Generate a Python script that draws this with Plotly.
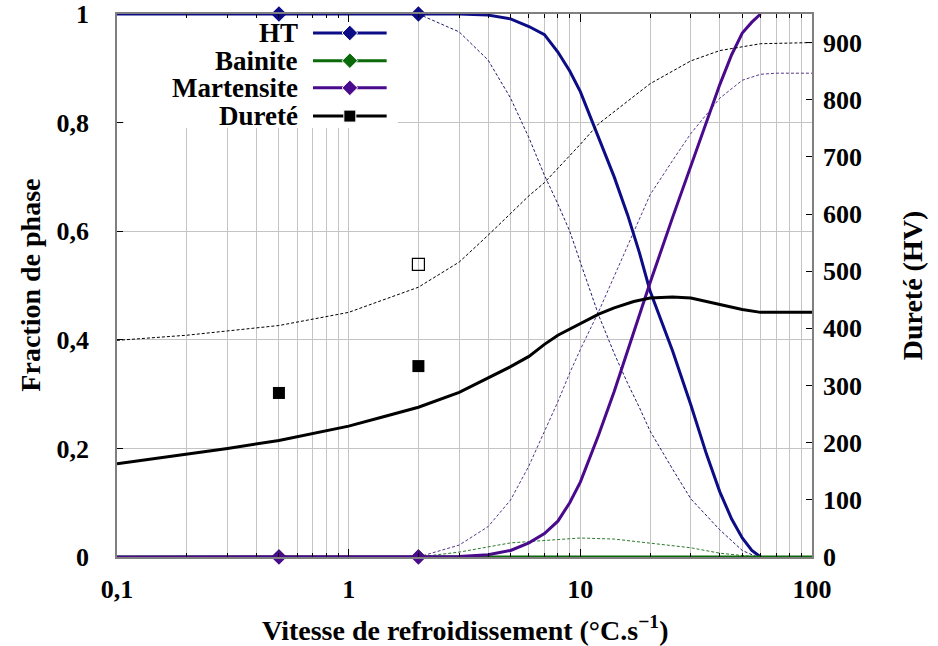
import plotly.graph_objects as go

# ---------------- data ----------------
# measured phase fractions (solid lines)
v_phase = [0.1, 0.5, 2, 3, 4, 5, 6, 7, 8, 9, 10, 12, 14, 16, 18, 20, 25, 30, 35, 40, 45, 50, 55, 60]
ht = [1, 1, 1, 1.0, 0.998, 0.991, 0.977, 0.962, 0.93, 0.895, 0.857, 0.77, 0.70, 0.63, 0.56, 0.49,
      0.38, 0.28, 0.19, 0.12, 0.07, 0.035, 0.012, 0]
martensite = [0, 0, 0, 0.001, 0.004, 0.012, 0.026, 0.043, 0.066, 0.10, 0.138, 0.225, 0.305, 0.38,
              0.445, 0.505, 0.625, 0.72, 0.80, 0.87, 0.925, 0.965, 0.985, 1.0]
v_bainite = [0.1, 0.5, 2, 100]
bainite = [0, 0, 0, 0]

# experimental points
v_exp = [0.5, 2]
ht_exp = [1, 1]
bainite_exp = [0, 0]
martensite_exp = [0, 0]
hv_exp = [287, 334]
v_exp_open = [2]
hv_exp_open = [512]

# hardness (solid)
v_hv = [0.1, 0.2, 0.3, 0.5, 0.7, 1, 1.4, 2, 3, 4, 5, 6, 7, 8, 10, 12, 14, 17, 20, 25, 30, 40, 50, 60, 100]
hv = [163, 180, 190, 204, 216, 229, 245, 262, 288, 313, 333, 351, 372, 388, 409, 425, 436, 447, 453,
      455, 453, 442, 433, 428, 428]

# model curves (thin dashed)
v_hv_mod = [0.1, 0.2, 0.5, 1, 2, 3, 4, 5, 6, 7, 8, 10, 12, 15, 20, 30, 40, 60, 100]
hv_mod = [379, 388, 405, 428, 472, 516, 563, 600, 632, 655, 680, 722, 758, 788, 828, 868, 886, 898, 900]

v_ht_mod = [2, 3, 4, 5, 6, 7, 8, 9, 10, 12, 14, 16, 18, 20, 25, 30, 40, 50, 58]
ht_mod = [1, 0.967, 0.915, 0.845, 0.772, 0.703, 0.65, 0.60, 0.543, 0.445, 0.375, 0.32, 0.275, 0.232,
          0.162, 0.107, 0.05, 0.012, 0]

v_mart_mod = [2, 3, 4, 5, 6, 7, 8, 9, 10, 12, 14, 16, 20, 25, 30, 40, 50, 60, 70, 100]
mart_mod = [0, 0.022, 0.056, 0.105, 0.168, 0.23, 0.286, 0.339, 0.382, 0.452, 0.517, 0.572, 0.667,
            0.73, 0.78, 0.845, 0.878, 0.889, 0.891, 0.891]

v_bain_mod = [2, 3, 5, 7.5, 10, 14, 20, 30, 40, 58]
bain_mod = [0, 0.009, 0.026, 0.031, 0.035, 0.033, 0.026, 0.017, 0.007, 0]

x_tickvals = [0.1, 1, 10, 100]
x_ticktext = ["0,1", "1", "10", "100"]
x_minor = [0.2, 0.3, 0.4, 0.5, 0.6, 0.7, 0.8, 0.9, 2, 3, 4, 5, 6, 7, 8, 9,
           20, 30, 40, 50, 60, 70, 80, 90]
y_tickvals = [0, 0.2, 0.4, 0.6, 0.8, 1]
y_ticktext = ["0", "0,2", "0,4", "0,6", "0,8", "1"]
y2_tickvals = [0, 100, 200, 300, 400, 500, 600, 700, 800, 900]

series_names = ["HT", "Bainite", "Martensite", "Dureté"]

# ---------------- style ----------------
C_HT = "#0c0c86"
C_B = "#0a6a0a"
C_M = "#4a0a8c"
C_K = "#000000"
FONT = "Liberation Serif"

fig = go.Figure()

# model (dashed) phase curves
fig.add_trace(go.Scatter(x=v_ht_mod, y=ht_mod, mode="lines",
                         line=dict(color="#1c1c70", width=1, dash="3px,2px"), showlegend=False))
fig.add_trace(go.Scatter(x=v_bain_mod, y=bain_mod, mode="lines",
                         line=dict(color="#2a7a2a", width=1, dash="3px,2px"), showlegend=False))
fig.add_trace(go.Scatter(x=v_mart_mod, y=mart_mod, mode="lines",
                         line=dict(color="#55368a", width=1, dash="3px,2px"), showlegend=False))

# solid phase curves
fig.add_trace(go.Scatter(x=v_phase, y=ht, mode="lines", line=dict(color=C_HT, width=3), showlegend=False))
fig.add_trace(go.Scatter(x=v_bainite, y=bainite, mode="lines", line=dict(color=C_B, width=3), showlegend=False))
fig.add_trace(go.Scatter(x=v_exp, y=bainite_exp, mode="markers",
                         marker=dict(symbol="diamond", size=12, color=C_B), showlegend=False))
fig.add_trace(go.Scatter(x=v_phase, y=martensite, mode="lines", line=dict(color=C_M, width=3), showlegend=False))
fig.add_trace(go.Scatter(x=v_exp, y=ht_exp, mode="markers",
                         marker=dict(symbol="diamond", size=12, color=C_HT), showlegend=False, cliponaxis=False))
fig.add_trace(go.Scatter(x=v_exp, y=martensite_exp, mode="markers",
                         marker=dict(symbol="diamond", size=12, color=C_M), showlegend=False, cliponaxis=False))

# hardness on right axis
fig.add_trace(go.Scatter(x=v_hv_mod, y=hv_mod, mode="lines", yaxis="y2",
                         line=dict(color=C_K, width=1, dash="3px,2px"), showlegend=False))
fig.add_trace(go.Scatter(x=v_hv, y=hv, mode="lines", yaxis="y2",
                         line=dict(color=C_K, width=3), showlegend=False))
fig.add_trace(go.Scatter(x=v_exp, y=hv_exp, mode="markers", yaxis="y2",
                         marker=dict(symbol="square", size=12, color=C_K), showlegend=False))
fig.add_trace(go.Scatter(x=v_exp_open, y=hv_exp_open, mode="markers", yaxis="y2",
                         marker=dict(symbol="square-open", size=12, color=C_K, line=dict(width=1.2)),
                         showlegend=False))

# ---------------- custom legend (text left, sample right) ----------------
leg_rows = [0.965, 0.914, 0.864, 0.812]
leg_colors = [C_HT, C_B, C_M, C_K]
leg_symbols = ["diamond", "diamond", "diamond", "square"]
for name, yy, col, sym in zip(series_names, leg_rows, leg_colors, leg_symbols):
    fig.add_trace(go.Scatter(x=[0.282, 0.335, 0.388], y=[yy, yy, yy], xaxis="x3", yaxis="y3",
                             mode="lines+markers", line=dict(color=col, width=3),
                             marker=dict(symbol=sym, size=[0, 12, 0], color=col, opacity=1),
                             showlegend=False, hoverinfo="skip"))
    fig.add_annotation(text=name, x=0.263, y=yy, xref="paper", yref="paper",
                       xanchor="right", yanchor="middle", showarrow=False,
                       font=dict(family=FONT, size=27, color="black", weight="bold"))

# white background of the legend box (hides grid, stays under the curves)
fig.add_shape(type="rect", xref="x", yref="y",
              x0=10 ** (-1 + 3 * 0.01), x1=10 ** (-1 + 3 * 0.404), y0=0.79, y1=1.0,
              fillcolor="white", line=dict(width=0), layer="between")

tickfont = dict(family=FONT, size=26, color="black", weight="bold")
GRID = "#c4c4c4"
AXLINE = "#808080"

fig.update_layout(
    width=938, height=646,
    margin=dict(l=117, r=126, t=14, b=89, autoexpand=False),
    paper_bgcolor="white", plot_bgcolor="white",
    showlegend=False,
    xaxis=dict(type="log", range=[-1, 2], tickmode="array", tickvals=x_tickvals, ticktext=x_ticktext,
               ticks="inside", ticklen=8, tickcolor="black", mirror="ticks", showline=True,
               linecolor=AXLINE, linewidth=1.5, showgrid=True, gridcolor=GRID, gridwidth=1,
               tickfont=tickfont, ticklabelstandoff=8, zeroline=False, automargin=False,
               minor=dict(tickmode="array", tickvals=x_minor, ticks="inside", ticklen=4,
                          tickcolor="black", showgrid=True, gridcolor=GRID, gridwidth=1)),
    yaxis=dict(range=[0, 1], tickmode="array", tickvals=y_tickvals, ticktext=y_ticktext,
               ticks="inside", ticklen=6, tickcolor="black", showline=True, linecolor=AXLINE,
               linewidth=1.5, showgrid=True, gridcolor=GRID, gridwidth=1, zeroline=False,
               tickfont=tickfont, ticklabelstandoff=21, automargin=False),
    yaxis2=dict(range=[0, 950], overlaying="y", side="right", tickmode="array", tickvals=y2_tickvals,
                ticks="inside", ticklen=6, tickcolor="black", showline=True, linecolor=AXLINE,
                linewidth=1.5, showgrid=False, zeroline=False, tickfont=tickfont, ticklabelstandoff=4,
                automargin=False),
    xaxis3=dict(range=[0, 1], overlaying="x", visible=False, anchor="y3", automargin=False),
    yaxis3=dict(range=[0, 1], overlaying="y", visible=False, anchor="x3", automargin=False),
)

titlefont = dict(family=FONT, size=28, color="black", weight="bold")
fig.add_annotation(text="Vitesse de refroidissement (°C.s<sup>−1</sup>)", x=0.5, y=-0.131,
                   xref="paper", yref="paper", xanchor="center", yanchor="middle",
                   showarrow=False, font=titlefont)
fig.add_annotation(text="Fraction de phase", x=-0.125, y=0.5, xref="paper", yref="paper",
                   xanchor="center", yanchor="middle", textangle=-90, showarrow=False, font=titlefont)
fig.add_annotation(text="Dureté (HV)", x=1.145, y=0.5, xref="paper", yref="paper",
                   xanchor="center", yanchor="middle", textangle=-90, showarrow=False, font=titlefont)

fig.write_html("out.html", config={"displayModeBar": False},
               post_script="document.body.style.margin='0';")
